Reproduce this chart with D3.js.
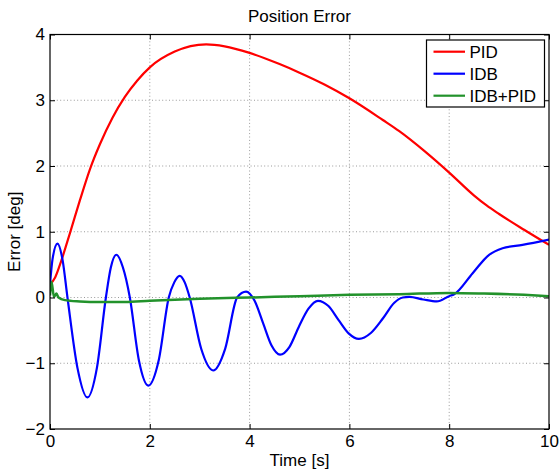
<!DOCTYPE html>
<html>
<head>
<meta charset="utf-8">
<script src="https://cdn.jsdelivr.net/npm/d3@7"></script>
<style>
  body { margin: 0; background: #fff; }
  svg { font-family: "Liberation Sans", Arial, sans-serif; }
</style>
</head>
<body>
<svg id="chart" width="559" height="474"></svg>
<script>
// values
var xTicks = [0, 2, 4, 6, 8, 10];
var yTicks = [-2, -1, 0, 1, 2, 3, 4];

var tPID = [0, 0.1, 0.2, 0.4, 0.6, 0.8, 1.0, 1.25, 1.5, 1.75, 2.0, 2.5, 3.13, 3.5, 4.0, 4.6, 5.0, 5.5, 6.0, 6.67, 7.0, 7.5, 8.0, 8.5, 8.75, 9.0, 9.5, 10];
var ePID = [0.2, 0.3, 0.5, 0.98, 1.48, 1.95, 2.33, 2.73, 3.05, 3.3, 3.5, 3.74, 3.85, 3.82, 3.72, 3.55, 3.42, 3.24, 3.03, 2.7, 2.53, 2.23, 1.9, 1.55, 1.4, 1.27, 1.03, 0.8];

var tIDB = [0, 0.05, 0.15, 0.25, 0.35, 0.55, 0.75, 0.94, 1.12, 1.22, 1.33, 1.46, 1.6, 1.78, 1.97, 2.18, 2.38, 2.49, 2.6, 2.7, 2.8, 3.03, 3.27, 3.51, 3.75, 3.93, 4.1, 4.27, 4.44, 4.61, 4.8, 4.99, 5.18, 5.37, 5.58, 5.78, 5.99, 6.19, 6.43, 6.67, 6.9, 7.07, 7.2, 7.48, 7.75, 8.0, 8.1, 8.47, 8.8, 9.07, 9.47, 10.0];
var eIDB = [0.2, 0.58, 0.82, 0.58, 0.0, -1.07, -1.52, -1.07, 0.0, 0.46, 0.65, 0.46, 0.0, -0.95, -1.34, -0.95, 0.0, 0.23, 0.33, 0.23, 0.0, -0.78, -1.11, -0.78, 0.0, 0.09, -0.05, -0.39, -0.73, -0.87, -0.75, -0.44, -0.17, -0.05, -0.13, -0.34, -0.55, -0.63, -0.54, -0.32, -0.08, 0.0, 0.01, -0.03, -0.06, 0.02, 0.05, 0.37, 0.65, 0.75, 0.8, 0.88];

var tMix = [0, 0.03, 0.08, 0.13, 0.17, 0.3, 0.6, 1.0, 1.5, 2.0, 3.0, 4.0, 5.0, 6.0, 7.0, 8.0, 8.7, 9.5, 10];
var eMix = [0.03, 0.24, 0.01, 0.06, 0.0, -0.04, -0.06, -0.07, -0.07, -0.05, -0.02, 0.0, 0.02, 0.04, 0.05, 0.07, 0.06, 0.04, 0.02];

var names = ["PID", "IDB", "IDB+PID"];
var colors = ["#ff0000", "#0000ff", "#22922b"];

var margin = {top: 34.5, right: 10, bottom: 45, left: 50},
    width = 559 - margin.left - margin.right,
    height = 474 - margin.top - margin.bottom;

var svg = d3.select("#chart");
var g = svg.append("g")
    .attr("transform", "translate(" + margin.left + "," + margin.top + ")");

var x = d3.scaleLinear().domain([0, 10]).range([0, width]);
var y = d3.scaleLinear().domain([-2, 4]).range([height, 0]);

// dotted grid
g.selectAll(".gx")
  .data(xTicks.slice(1, -1))
  .enter().append("line")
    .attr("x1", function(d) { return x(d); })
    .attr("x2", function(d) { return x(d); })
    .attr("y1", 0).attr("y2", height)
    .style("stroke", "#9a9a9a")
    .style("stroke-width", 1)
    .style("stroke-dasharray", "1,2.4");

g.selectAll(".gy")
  .data(yTicks.slice(1, -1))
  .enter().append("line")
    .attr("y1", function(d) { return y(d); })
    .attr("y2", function(d) { return y(d); })
    .attr("x1", 0).attr("x2", width)
    .style("stroke", "#9a9a9a")
    .style("stroke-width", 1)
    .style("stroke-dasharray", "1,2.4");

// data lines
var series = [
  d3.zip(tPID, ePID),
  d3.zip(tIDB, eIDB),
  d3.zip(tMix, eMix)
];

var line = d3.line()
    .x(function(d) { return x(d[0]); })
    .y(function(d) { return y(d[1]); })
    .curve(d3.curveMonotoneX);

g.append("defs").append("clipPath").attr("id", "clip")
  .append("rect").attr("width", width).attr("height", height);

g.append("g").attr("clip-path", "url(#clip)")
  .selectAll("path")
  .data(series)
  .enter().append("path")
    .attr("d", line)
    .style("fill", "none")
    .style("stroke", function(d, i) { return colors[i]; })
    .style("stroke-width", function(d, i) { return i == 2 ? 2.5 : 2.2; });

// axes, ticks pointing inward
function styleAxis(sel, showText) {
  sel.select(".domain").remove();
  sel.selectAll("line").style("stroke", "#000");
  sel.selectAll("text")
    .style("font-size", "17px")
    .style("fill", "#000")
    .style("display", showText ? null : "none");
}

g.append("g")
  .attr("transform", "translate(0," + height + ")")
  .call(d3.axisBottom(x).tickValues(xTicks).tickSize(-5).tickPadding(6).tickFormat(d3.format("d")))
  .call(styleAxis, true);

g.append("g")
  .call(d3.axisTop(x).tickValues(xTicks).tickSize(-5))
  .call(styleAxis, false);

g.append("g")
  .call(d3.axisLeft(y).tickValues(yTicks).tickSize(-5).tickPadding(5).tickFormat(d3.format("d")))
  .call(styleAxis, true);

g.append("g")
  .attr("transform", "translate(" + width + ",0)")
  .call(d3.axisRight(y).tickValues(yTicks).tickSize(-5))
  .call(styleAxis, false);

g.append("rect")
  .attr("width", width).attr("height", height)
  .style("fill", "none")
  .style("stroke", "#000")
  .style("stroke-width", 1.2);

// labels
svg.append("text")
  .attr("x", margin.left + width / 2)
  .attr("y", 22)
  .attr("text-anchor", "middle")
  .style("font-size", "17px")
  .text("Position Error");

svg.append("text")
  .attr("x", margin.left + width / 2)
  .attr("y", 466)
  .attr("text-anchor", "middle")
  .style("font-size", "17px")
  .text("Time [s]");

svg.append("text")
  .attr("transform", "translate(20," + (margin.top + height / 2) + ") rotate(-90)")
  .attr("text-anchor", "middle")
  .style("font-size", "17px")
  .text("Error [deg]");

// legend
var legend = svg.append("g").attr("transform", "translate(426.5,40)");

legend.append("rect")
  .attr("width", 118).attr("height", 67)
  .style("fill", "#fff")
  .style("stroke", "#000")
  .style("stroke-width", 1.2);

var entry = legend.selectAll(".entry")
  .data(names)
  .enter().append("g")
    .attr("transform", function(d, i) { return "translate(0," + (11.7 + i * 22) + ")"; });

entry.append("line")
  .attr("x1", 7).attr("x2", 38.5)
  .style("stroke", function(d, i) { return colors[i]; })
  .style("stroke-width", 2.2);

entry.append("text")
  .attr("x", 43)
  .attr("dy", "0.36em")
  .style("font-size", "17px")
  .text(function(d) { return d; });
</script>
</body>
</html>
